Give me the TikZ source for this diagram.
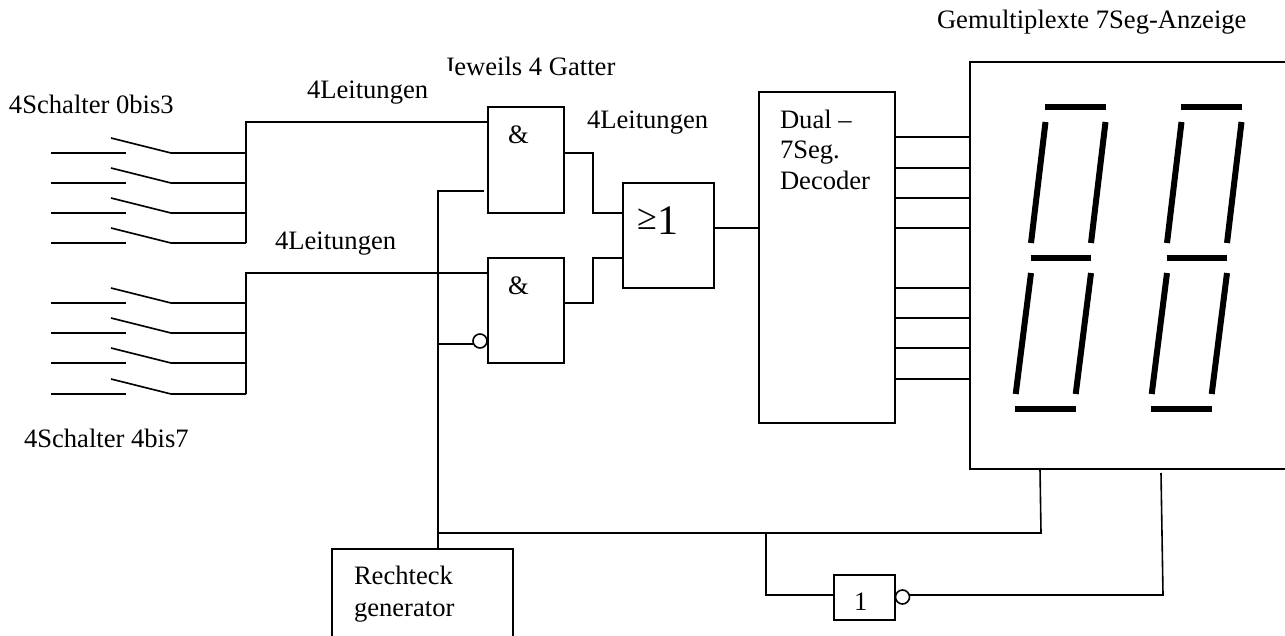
\documentclass[tikz,border=0pt]{standalone}
\usepackage{fontspec}
\setmainfont{Liberation Serif}
\tikzset{
  x=1pt,y=-1pt,
  wire/.style={draw=black,line width=1.6pt},
  box/.style={draw=black,line width=1.6pt,fill=white,rectangle,inner sep=0pt,outer sep=0pt,anchor=north west},
  lbl/.style={font=\fontsize{26.6}{30}\selectfont,anchor=base west,inner sep=0pt,outer sep=0pt,align=left},
  seg/.style={draw=black,line width=6pt},
  bub/.style={draw=black,line width=1.6pt,fill=white,circle,minimum size=14pt,inner sep=0pt,outer sep=0pt},
}
\begin{document}
\begin{tikzpicture}
\useasboundingbox (0,0) rectangle (1285,635);
% switches
\foreach \n/\y in {a/153,b/183,c/213,d/243,e/303,f/333,g/363,h/394}{
  \coordinate (l\n) at (51,\y);
  \coordinate (m\n) at (126,\y);
  \coordinate (s\n) at (111,\y-15);
  \coordinate (r\n) at (171,\y);
  \coordinate (b\n) at (246,\y);
  \draw[wire] (l\n) -- (m\n);
  \draw[wire] (s\n) -- (r\n) -- (b\n);
}
% gates
\node[box,minimum width=76pt,minimum height=106pt] (and1) at (488,107) {};
\node[box,minimum width=76pt,minimum height=105pt] (and2) at (488,258) {};
\node[box,minimum width=91pt,minimum height=105pt] (or) at (623,183) {};
\node[box,minimum width=136pt,minimum height=331pt] (dec) at (759,92) {};
\node[box,minimum width=330pt,minimum height=407pt] (disp) at (970,62) {};
\node[box,minimum width=181pt,minimum height=100pt] (gen) at (332,549) {};
\node[box,minimum width=61pt,minimum height=45pt] (inv) at (834,575) {};
\node[bub] (bub1) at (480,341) {};
\node[bub] (bub2) at (902.5,597) {};
% buses
\coordinate (t1) at (246,122);
\coordinate (t2) at (246,273);
\draw[wire] (bd) -- (t1) -- (and1.west |- t1);
\draw[wire] (bh) -- (t2) -- (and2.west |- t2);
% gate outputs
\coordinate (o1) at (593,153);
\coordinate (o2) at (593,213);
\coordinate (o3) at (593,303);
\coordinate (o4) at (593,258);
\draw[wire] (and1.east |- o1) -- (o1) -- (o2) -- (or.west |- o2);
\draw[wire] (and2.east |- o3) -- (o3) -- (o4) -- (or.west |- o4);
\draw[wire] (or.east |- 0,228) -- (dec.west |- 0,228);
\foreach \y in {137,168,198,228,288,318,348,379}{
  \draw[wire] (dec.east |- 0,\y) -- (disp.west |- 0,\y);
}
% clock
\coordinate (c0) at (484,191);
\coordinate (c1) at (438,191);
\coordinate (c2) at (438,344);
\coordinate (c3) at (438,533);
\coordinate (c4) at (1041,533);
\coordinate (c5) at (1040,469);
\coordinate (c6) at (766,533);
\coordinate (c7) at (766,595);
\coordinate (c8) at (1163,595);
\coordinate (c9) at (1161,473);
\draw[wire] (c0) -- (c1) -- (c3 |- gen.north);
\draw[wire] (c2) -- (bub1.west |- c2);
\draw[wire] (c3) -- (c4) -- (c5);
\draw[wire] (c6) -- (c7) -- (inv.west |- c7);
\draw[wire] (bub2.east |- c8) -- (c8) -- (c9);
% segments
\foreach \d in {0,136}{
  \begin{scope}[xshift=\d pt]
    \draw[seg] (1045,107) -- (1106,107);
    \draw[seg] (1030.5,258) -- (1091,258);
    \draw[seg] (1015,409) -- (1076,409);
    \foreach \o in {0,60}{
      \draw[seg] (1045.5+\o,122) -- (1031+\o,243);
      \draw[seg] (1031+\o,273) -- (1015.7+\o,394);
    }
  \end{scope}
}
% labels
\node[lbl] (t01) at (9,113) {4Schalter 0bis3};
\node[lbl] (t02) at (24,447) {4Schalter 4bis7};
\node[lbl] (t03) at (307,98) {4Leitungen};
\node[lbl] (t04) at (275,249) {4Leitungen};
\node[lbl] (t05) at (587,128) {4Leitungen};
\node[lbl] (t06) at (444,75) {Jeweils 4 Gatter};
\fill[white] (440,71) rectangle (452,79);
\node[lbl] (t07) at (508,143) {\&};
\node[lbl] (t08) at (508,294) {\&};
\node[lbl] (t09) at (937,28) {Gemultiplexte 7Seg-Anzeige};
\node[lbl] (t10) at (780,128) {Dual –};
\node[lbl] (t11) at (780,158) {7Seg.};
\node[lbl] (t12) at (780,189) {Decoder};
\node[lbl] (t13) at (354,584) {Rechteck};
\node[lbl] (t14) at (354,616) {generator};
\node[lbl] (t15) at (854,610) {1};
\node[font=\fontsize{36}{46}\selectfont,anchor=base west,inner sep=0pt] (t16) at (637,229) {≥};
\node[font=\fontsize{42}{46}\selectfont,anchor=base west,inner sep=0pt] (t17) at (657.5,234) {1};
\end{tikzpicture}
\end{document}
